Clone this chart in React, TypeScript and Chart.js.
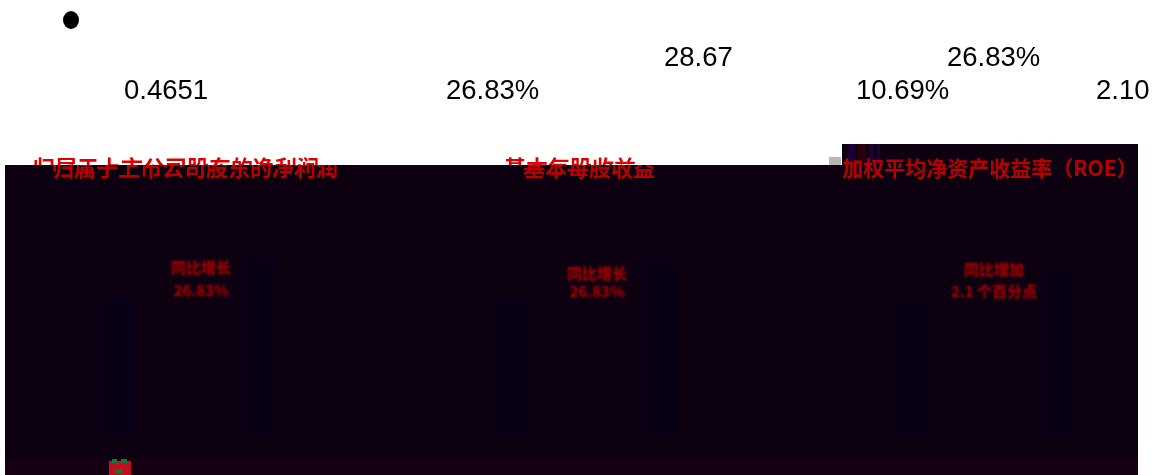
import React, { useEffect, useRef } from "react";
import { Chart, registerables } from "chart.js";

Chart.register(...registerables);

const periods = ["上年同期", "本期"];
const netProfit = [22.6, 28.67];
const eps = [0.3667, 0.4651];
const roe = [8.59, 10.69];
const panelTitles = ["归属于上市公司股东的净利润", "基本每股收益", "加权平均净资产收益率（ROE）"];
const noteFirst = ["同比增长", "同比增长", "同比增加"];
const noteSecond = ["26.83%", "26.83%", "2.1 个百分点"];

const W = 1158;
const H = 475;
const DARK = "#0d0010";
const SANS = '"Liberation Sans", Arial, sans-serif';
const CJK = '"Noto Sans CJK SC", sans-serif';

const headline = {
  id: "headline",
  beforeDraw(c: any) {
    const x = c.ctx;
    x.save();
    x.fillStyle = "#ffffff";
    x.fillRect(0, 0, W, H);
    x.fillStyle = DARK;
    x.fillRect(5, 165, 1133, 310);
    x.fillRect(842, 144, 296, 21);
    x.fillStyle = "#160014";
    x.fillRect(5, 458, 1133, 17);
    // image-decay residue in the band at the top of the third panel and along the bottom
    x.fillStyle = "#1c0038";
    x.fillRect(848, 144, 7, 21);
    x.fillRect(869, 144, 5, 21);
    x.fillRect(877, 144, 3, 21);
    x.fillStyle = "#2a000c";
    x.fillRect(858, 144, 8, 21);
    x.fillStyle = "#b8b8b0";
    x.fillRect(829, 157, 12, 8);
    x.fillStyle = "#c01020";
    x.fillRect(109, 461, 22, 14);
    x.fillStyle = "#0c7a3a";
    x.fillRect(112, 459, 5, 4);
    x.fillRect(121, 459, 6, 4);
    x.fillRect(116, 469, 6, 4);
    x.fillStyle = "#000000";
    x.font = `27.5px ${SANS}`;
    x.textBaseline = "middle";
    x.textAlign = "left";
    [["28.67", 664, 58], ["26.83%", 947, 58], ["0.4651", 124, 91], ["26.83%", 446, 91], ["10.69%", 856, 91], ["2.10", 1096, 91]].forEach(
      ([t, px, py]: any) => x.fillText(t, px, py)
    );
    x.beginPath();
    x.ellipse(71, 20, 8, 9, 0, 0, Math.PI * 2);
    x.fill();
    x.restore();
  },
};

function panelText(index: number, lowX: number, highX: number, noteX: number, noteY1: number, noteY2: number, titleSize: number) {
  return {
    id: "panelText" + index,
    afterDraw(c: any) {
      const x = c.ctx;
      x.save();
      x.textBaseline = "alphabetic";
      x.textAlign = "center";
      x.filter = "blur(0.6px)";
      x.font = `bold ${titleSize}px ${CJK}`;
      if (index < 2) {
        x.save();
        x.beginPath();
        x.rect(0, 150, W, 15);
        x.clip();
        x.fillStyle = "#e00000";
        x.fillText(panelTitles[index], highX, 176);
        x.restore();
      }
      x.save();
      x.beginPath();
      x.rect(0, index < 2 ? 165 : 144, W, 40);
      x.clip();
      x.fillStyle = "#b80000";
      x.fillText(panelTitles[index], lowX, 176);
      x.restore();
      x.filter = "blur(0.8px)";
      x.font = `bold 15px ${CJK}`;
      x.fillStyle = "#b80000";
      x.fillText(noteFirst[index], noteX, noteY1);
      x.fillText(noteSecond[index], noteX, noteY2);
      x.restore();
    },
  };
}

const panels = [
  { values: netProfit, left: 47, width: 284, max: 31.4, extra: [headline, panelText(0, 195, 176, 201, 273, 296, 22)] },
  { values: eps, left: 440, width: 294, max: 0.5177, extra: [panelText(1, 589, 570, 597, 279, 297, 22)] },
  { values: roe, left: 838, width: 294, max: 12.61, extra: [panelText(2, 990, 990, 994, 275, 297, 21)] },
];

export default function App() {
  const refs = [useRef<HTMLCanvasElement>(null), useRef<HTMLCanvasElement>(null), useRef<HTMLCanvasElement>(null)];
  useEffect(() => {
    const charts = panels.map((p, i) =>
      new Chart(refs[i].current as HTMLCanvasElement, {
        type: "bar",
        data: {
          labels: periods,
          datasets: [
            {
              data: p.values,
              backgroundColor: "#090016",
              barThickness: 35,
            },
          ],
        },
        options: {
          animation: false,
          responsive: false,
          layout: { padding: { left: p.left, right: W - p.left - p.width, top: 240, bottom: H - 437 } },
          plugins: { legend: { display: false }, title: { display: false }, tooltip: { enabled: false } },
          scales: {
            x: { display: false },
            y: { display: false, min: 0, max: p.max },
          },
        },
        plugins: p.extra,
      })
    );
    return () => charts.forEach((c) => c.destroy());
  }, []);
  return (
    <div style={{ position: "fixed", left: 0, top: 0, width: W, height: H }}>
      {panels.map((_, i) => (
        <canvas key={i} ref={refs[i]} width={W} height={H} style={{ position: "absolute", left: 0, top: 0, width: W, height: H }} />
      ))}
    </div>
  );
}
